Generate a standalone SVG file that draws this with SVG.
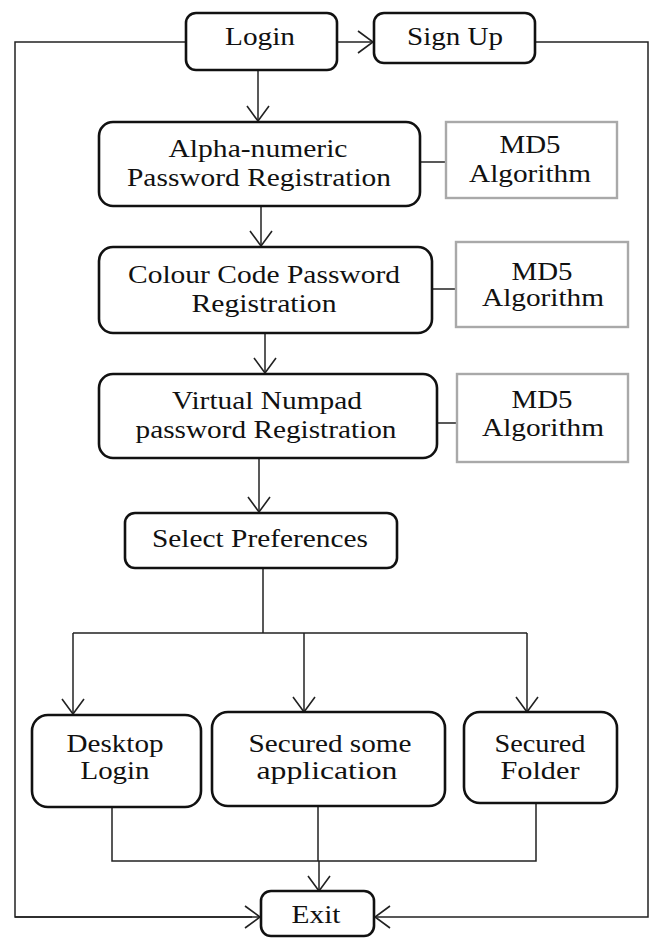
<svg xmlns="http://www.w3.org/2000/svg" width="651" height="938" viewBox="0 0 651 938">
<style>
.b{fill:#fff;stroke:#111;stroke-width:2.6}
.g{fill:#fff;stroke:#a9a9a9;stroke-width:2.4}
.t{font-family:"Liberation Serif","Times New Roman",serif;font-size:25px;fill:#111;text-anchor:middle}
.c{fill:none;stroke:#222;stroke-width:1.5}
.a{marker-end:url(#ah)}
</style>
<defs>
<marker id="ah" markerUnits="userSpaceOnUse" viewBox="0 0 17 24" markerWidth="17" markerHeight="24" refX="16" refY="12" orient="auto">
<path d="M1,1 L16,12 L1,23" fill="none" stroke="#222" stroke-width="1.6"/>
</marker>
</defs>
<g id="connectors">
<path class="c a" d="M337,42 H373"/>
<path class="c" d="M186,42 H15 V917 H252"/>
<path class="c a" d="M15,917 H260"/>
<path class="c a" d="M535,42 H648 V917 H375"/>
<path class="c a" d="M258,70 V121"/>
<path class="c a" d="M261,206 V246"/>
<path class="c a" d="M265,333 V373"/>
<path class="c a" d="M259,458 V512"/>
<path class="c" d="M420,162 H446"/>
<path class="c" d="M432,289 H456"/>
<path class="c" d="M437,423 H457"/>
<path class="c" d="M263,568 V633 M73,633 H527"/>
<path class="c a" d="M73,633 V714"/>
<path class="c a" d="M304,633 V712"/>
<path class="c a" d="M527,633 V712"/>
<path class="c" d="M112,807 V861 H536 V803 M318,806 V861"/>
<path class="c a" d="M319,861 V891"/>
</g>
<g id="login"><rect class="b" x="186" y="13" width="151" height="57" rx="10"/><text class="t" x="260" y="45" textLength="70" lengthAdjust="spacingAndGlyphs">Login</text></g>
<g id="signup"><rect class="b" x="374" y="13" width="161" height="50" rx="10"/><text class="t" x="455" y="45" textLength="96" lengthAdjust="spacingAndGlyphs">Sign Up</text></g>
<g id="alpha"><rect class="b" x="99" y="122" width="321" height="84" rx="14"/><text class="t" x="258" y="157" textLength="179" lengthAdjust="spacingAndGlyphs">Alpha-numeric</text><text class="t" x="259" y="186" textLength="264" lengthAdjust="spacingAndGlyphs">Password Registration</text></g>
<g id="md5a"><rect class="g" x="446" y="122" width="171" height="76"/><text class="t" x="530" y="153" textLength="61" lengthAdjust="spacingAndGlyphs">MD5</text><text class="t" x="530" y="182" textLength="122" lengthAdjust="spacingAndGlyphs">Algorithm</text></g>
<g id="colour"><rect class="b" x="99" y="247" width="333" height="86" rx="14"/><text class="t" x="264" y="283" textLength="272" lengthAdjust="spacingAndGlyphs">Colour Code Password</text><text class="t" x="264" y="312" textLength="145" lengthAdjust="spacingAndGlyphs">Registration</text></g>
<g id="md5b"><rect class="g" x="456" y="242" width="172" height="85"/><text class="t" x="542" y="280" textLength="61" lengthAdjust="spacingAndGlyphs">MD5</text><text class="t" x="543" y="306" textLength="122" lengthAdjust="spacingAndGlyphs">Algorithm</text></g>
<g id="virtual"><rect class="b" x="99" y="374" width="338" height="84" rx="14"/><text class="t" x="267" y="409" textLength="190" lengthAdjust="spacingAndGlyphs">Virtual Numpad</text><text class="t" x="266" y="438" textLength="261" lengthAdjust="spacingAndGlyphs">password Registration</text></g>
<g id="md5c"><rect class="g" x="457" y="374" width="171" height="88"/><text class="t" x="542" y="408" textLength="61" lengthAdjust="spacingAndGlyphs">MD5</text><text class="t" x="543" y="436" textLength="122" lengthAdjust="spacingAndGlyphs">Algorithm</text></g>
<g id="select"><rect class="b" x="125" y="513" width="272" height="55" rx="10"/><text class="t" x="260" y="547" textLength="216" lengthAdjust="spacingAndGlyphs">Select Preferences</text></g>
<g id="desktop"><rect class="b" x="32" y="715" width="169" height="92" rx="16"/><text class="t" x="115" y="752" textLength="97" lengthAdjust="spacingAndGlyphs">Desktop</text><text class="t" x="115" y="779" textLength="69" lengthAdjust="spacingAndGlyphs">Login</text></g>
<g id="secapp"><rect class="b" x="212" y="712" width="233" height="94" rx="16"/><text class="t" x="330" y="752" textLength="163" lengthAdjust="spacingAndGlyphs">Secured some</text><text class="t" x="327" y="779" textLength="141" lengthAdjust="spacingAndGlyphs">application</text></g>
<g id="folder"><rect class="b" x="464" y="712" width="153" height="91" rx="16"/><text class="t" x="540" y="752" textLength="91" lengthAdjust="spacingAndGlyphs">Secured</text><text class="t" x="540" y="779" textLength="79" lengthAdjust="spacingAndGlyphs">Folder</text></g>
<g id="exit"><rect class="b" x="261" y="891" width="113" height="45" rx="10"/><text class="t" x="316" y="923" textLength="49" lengthAdjust="spacingAndGlyphs">Exit</text></g>
</svg>
